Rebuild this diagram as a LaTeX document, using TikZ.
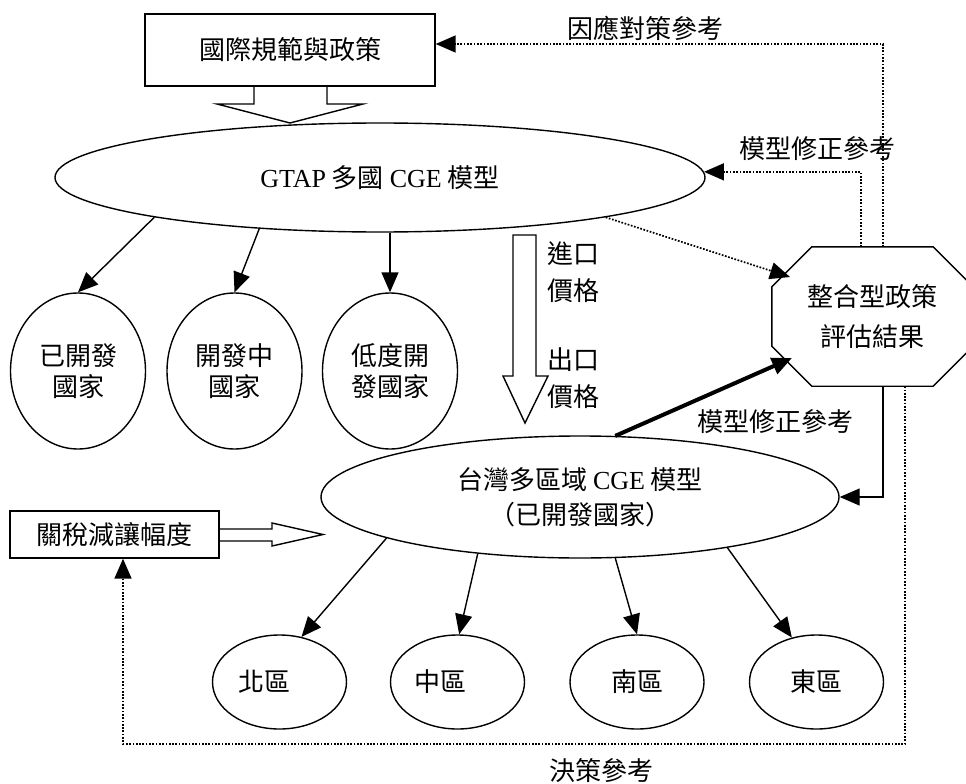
\documentclass[tikz,border=0pt]{standalone}
\usepackage{fontspec}
\setmainfont{Noto Sans CJK TC}
\newfontfamily\latin{Liberation Serif}
\usepackage{tikz}
\usetikzlibrary{shapes.geometric, arrows.meta}
\tikzstyle{oval} = [draw, ellipse, line width=1.4pt, inner sep=0pt, align=center]
\tikzstyle{box} = [draw, rectangle, line width=1.4pt, inner sep=0pt]
\tikzstyle{arrow} = [line width=1.4pt, -{Triangle[length=20pt,width=17pt]}]
\tikzstyle{dotarrow} = [line width=1.7pt, dash pattern=on 1.7pt off 1.6pt, -{Triangle[length=20pt,width=17pt]}]

\begin{document}
\begin{tikzpicture}[x=1pt, y=-1pt, font=\fontsize{26pt}{31pt}\selectfont]
\useasboundingbox (0,0) rectangle (966,784);
% global model
\node[box, minimum width=290pt, minimum height=72pt] (rules) at (290,50) {國際規範與政策};
\draw[line width=1.4pt] (254,86) -- (254,104) -- (217,104) -- (290,123) -- (363,104) -- (327,104) -- (327,86);
\node[oval, minimum width=650pt, minimum height=109pt] (gtap) at (380,177.5) {{\latin GTAP} 多國 {\latin CGE} 模型};
\node[oval, minimum width=135pt, minimum height=156pt] (dev) at (78,371) {已開發\\國家};
\node[oval, minimum width=135pt, minimum height=156pt] (ing) at (234.5,371) {開發中\\國家};
\node[oval, minimum width=135pt, minimum height=156pt] (ldc) at (390,371) {低度開\\發國家};
\draw[arrow] (gtap.190.5) -- (dev.north);
\draw[arrow] (gtap.203.5) -- (ing.north);
\draw[arrow] (ldc.north |- gtap.south) -- (ldc.north);
% prices
\draw[line width=1.4pt] (513,235) -- (536,235) -- (536,376) -- (548,376) -- (525,423) -- (503,376) -- (513,376) -- cycle;
\node[align=center, font=\fontsize{26pt}{37pt}\selectfont] (imp) at (573,272) {進口\\價格};
\node[align=center, font=\fontsize{26pt}{37pt}\selectfont] (exp) at (573,378) {出口\\價格};
% taiwan model
\node[oval, minimum width=518pt, minimum height=122pt, font=\fontsize{26pt}{35pt}\selectfont] (tw) at (580,497) {台灣多區域 {\latin CGE} 模型\\（已開發國家）};
\node[box, minimum width=209pt, minimum height=47pt] (tariff) at (114.5,534.5) {關稅減讓幅度};
\draw[line width=1.4pt] (219,529) -- (272,529) -- (272,523) -- (323,534.5) -- (272,546) -- (272,541) -- (219,541);
\node[oval, minimum width=134pt, minimum height=94pt] (rnorth) at (279.5,682) {北區\hspace*{30pt}};
\node[oval, minimum width=134pt, minimum height=94pt] (rmid) at (457.5,682) {中區\hspace*{34pt}};
\node[oval, minimum width=134pt, minimum height=94pt] (rsouth) at (637,682) {南區};
\node[oval, minimum width=134pt, minimum height=94pt] (reast) at (816.5,682) {東區};
\draw[arrow] (tw.192.2) -- (rnorth.64);
\draw[arrow] (tw.209.4) -- (rmid.88);
\draw[arrow] (tw.300.1) -- (rsouth.90);
\draw[arrow] (tw.341.1) -- (reast.119);
% evaluation
\node[minimum width=201pt, minimum height=139pt, inner sep=0pt, align=center, font=\fontsize{26pt}{40pt}\selectfont] (ev) at (872.5,316.5) {整合型政策\\評估結果};
\draw[line width=1.4pt] ([xshift=40pt]ev.north west) -- ([xshift=-40pt]ev.north east) -- ([yshift=-40pt]ev.north east) -- ([yshift=40pt]ev.south east) -- ([xshift=-40pt]ev.south east) -- ([xshift=40pt]ev.south west) -- ([yshift=40pt]ev.south west) -- ([yshift=-40pt]ev.north west) -- cycle;
\coordinate (evin) at (790,277);
\coordinate (evup) at (792,358);
\draw[dotarrow] (gtap.350.9) -- (evin);
\draw[arrow, line width=4pt] (tw.60) -- (evup);
\node (fixlow) at (775,422) {模型修正參考};
\draw[arrow] ([xshift=10.5pt]ev.south) |- (tw.east);
% feedback
\draw[dotarrow] ([xshift=10.5pt]ev.north) |- ([yshift=6pt]rules.east);
\node (respond) at (645,28) {因應對策參考};
\draw[dotarrow] ([xshift=-11.5pt]ev.north) |- (gtap.1.5);
\node (fixup) at (817,149) {模型修正參考};
\coordinate (loop) at (600,744);
\draw[dotarrow] ([xshift=32.5pt]ev.south) |- (loop) -| ([xshift=8.5pt]tariff.south);
\node (decide) at (601,771) {決策參考};
\end{tikzpicture}
\end{document}
